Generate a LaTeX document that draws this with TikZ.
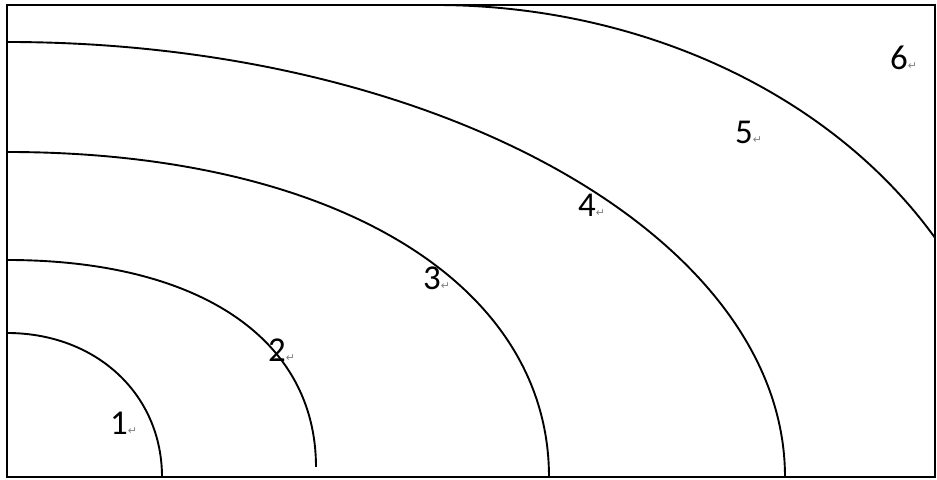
\documentclass[tikz,border=0pt]{standalone}
\usepackage{fontspec}
\usepackage{xcolor}
\usepackage{tikz}
\usetikzlibrary{positioning}
\setmainfont{Carlito}
\newfontfamily\symf{DejaVu Sans}
\definecolor{ink}{RGB}{0,0,0}
\definecolor{markgray}{RGB}{130,130,130}
\tikzset{
  frame/.style={draw=ink, line width=2.6bp},
  ring/.style={draw=ink, line width=1.9bp},
  lbl/.style={anchor=base west, inner sep=0pt, font=\fontsize{35}{37}\selectfont, text=ink},
}
\newcommand{\rmk}{{\symf\fontsize{11}{11}\selectfont\color{markgray}↵}}
\newcommand{\ring}[4]{\draw[ring] (0,#2) .. controls (#3*#1,#2) and (#1,#4+#3*#2-#3*#4) .. (#1,#4);}

\begin{document}
\begin{tikzpicture}[x=1bp,y=1bp]
\useasboundingbox (-7,-3) rectangle (930,477);
% Ramka
\draw[frame] (0,0) rectangle (928,472);

% Luki od srodka
\ring{155}{144}{0.575}{0}
\ring{309}{217}{0.62}{10}
\ring{542}{325}{0.6}{0}
\ring{778}{435}{0.552}{0}
\draw[ring] (428,472) arc[start angle=90, end angle=30.5, x radius=580, y radius=472];

% Numery
\node[lbl] (l1) at (103,42) {1\rmk};
\node[lbl] (l2) at (261,115) {2\rmk};
\node[lbl] (l3) at (416,187) {3\rmk};
\node[lbl] (l4) at (571,260) {4\rmk};
\node[lbl] (l5) at (728,333) {5\rmk};
\node[lbl] (l6) at (883,407) {6\rmk};
\end{tikzpicture}
\end{document}
